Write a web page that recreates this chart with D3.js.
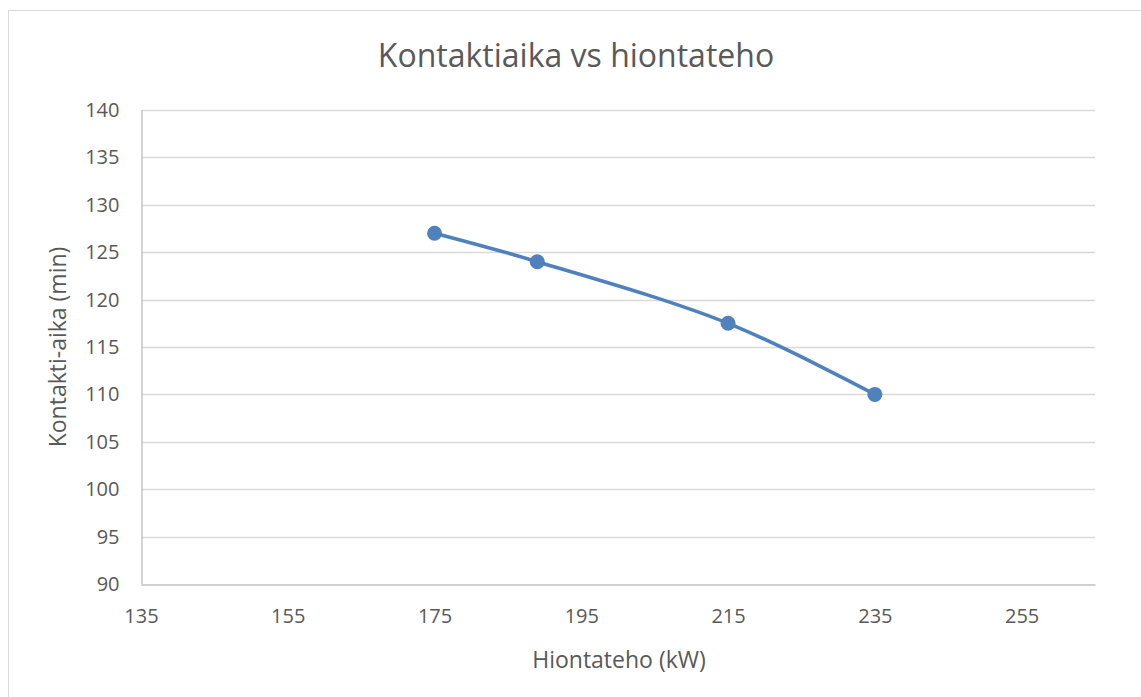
<!DOCTYPE html>
<html>
<head>
<meta charset="utf-8">
<script src="https://cdn.jsdelivr.net/npm/d3@7"></script>
<style>
  body { margin: 0; background: #fff; }
  text { font-family: "Open Sans", sans-serif; fill: #595959; }
</style>
</head>
<body>
<div id="chart"></div>
<script>
// data
var power = [175, 189, 215, 235];          // Hiontateho (kW)
var contactTime = [127, 124, 117.5, 110];  // Kontakti-aika (min)
var xTicks = [135, 155, 175, 195, 215, 235, 255];
var yTicks = [90, 95, 100, 105, 110, 115, 120, 125, 130, 135, 140];

var width = 1141, height = 697;
var margin = {top: 110, right: 46, bottom: 113, left: 141};

var svg = d3.select("#chart").append("svg")
  .attr("width", width)
  .attr("height", height);

// outer chart border
svg.append("rect")
  .attr("x", 8.5).attr("y", 10.5)
  .attr("width", width + 10).attr("height", height + 10)
  .attr("fill", "none")
  .attr("stroke", "#d9d9d9");

var x = d3.scaleLinear().domain([135, 265]).range([margin.left, width - margin.right]);
var y = d3.scaleLinear().domain([90, 140]).range([height - margin.bottom, margin.top]);

// gridlines
svg.append("g")
  .selectAll("line")
  .data(yTicks.slice(1))
  .enter().append("line")
  .attr("x1", x(135)).attr("x2", x(265))
  .attr("y1", function (d) { return Math.round(y(d)) + 0.5; })
  .attr("y2", function (d) { return Math.round(y(d)) + 0.5; })
  .attr("stroke", "#d9d9d9")
  .attr("stroke-width", 1.3);

// axes
var xAxis = svg.append("g")
  .attr("transform", "translate(0," + (Math.round(y(90)) + 0.5) + ")")
  .call(d3.axisBottom(x).tickValues(xTicks).tickSize(0).tickPadding(24));
xAxis.select(".domain").attr("stroke", "#bfbfbf").attr("stroke-width", 1.3);
xAxis.selectAll("text").style("font-size", "20px").attr("fill", "#595959");

var yAxis = svg.append("g")
  .attr("transform", "translate(" + (Math.round(x(135)) + 0.5) + ",0)")
  .call(d3.axisLeft(y).tickValues(yTicks).tickSize(0).tickPadding(22));
yAxis.select(".domain").attr("stroke", "#bfbfbf").attr("stroke-width", 1.3);
yAxis.selectAll("text").style("font-size", "20px").attr("fill", "#595959");

// smoothed line
var points = power.map(function (p, i) { return [p, contactTime[i]]; });
var line = d3.line()
  .x(function (d) { return x(d[0]); })
  .y(function (d) { return y(d[1]); })
  .curve(d3.curveCatmullRom.alpha(0.5));

svg.append("path")
  .datum(points)
  .attr("d", line)
  .attr("fill", "none")
  .attr("stroke", "#4f81bd")
  .attr("stroke-width", 3.6)
  .attr("stroke-linecap", "round");

svg.append("g")
  .selectAll("circle")
  .data(points)
  .enter().append("circle")
  .attr("cx", function (d) { return x(d[0]); })
  .attr("cy", function (d) { return y(d[1]); })
  .attr("r", 7.5)
  .attr("fill", "#4f81bd");

// titles
svg.append("text")
  .attr("x", 576).attr("y", 67)
  .attr("text-anchor", "middle")
  .style("font-size", "32px")
  .text("Kontaktiaika vs hiontateho");

svg.append("text")
  .attr("x", 619).attr("y", 668)
  .attr("text-anchor", "middle")
  .style("font-size", "23px")
  .text("Hiontateho (kW)");

svg.append("text")
  .attr("transform", "translate(66,347) rotate(-90)")
  .attr("text-anchor", "middle")
  .style("font-size", "23px")
  .text("Kontakti-aika (min)");
</script>
</body>
</html>
